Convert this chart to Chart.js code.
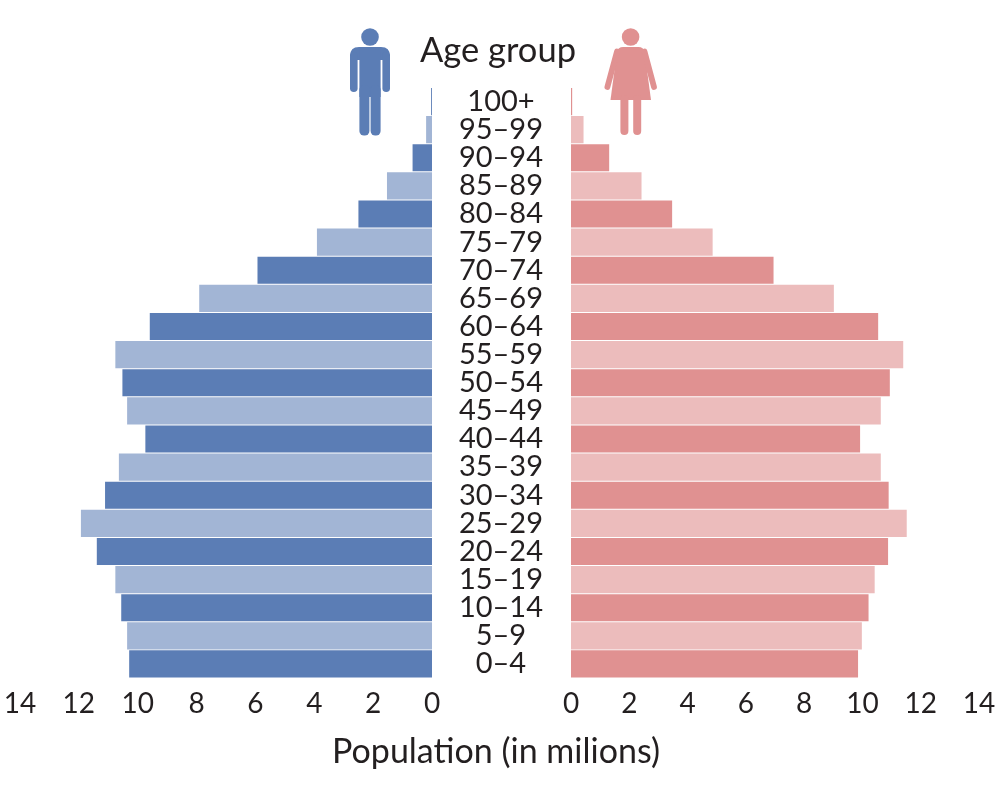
<!DOCTYPE html>
<html>
<head>
<meta charset="utf-8">
<script src="https://cdn.jsdelivr.net/npm/chart.js@4.4.1/dist/chart.umd.min.js"></script>
<style>
  html, body { margin:0; padding:0; background:#fff; }
  body { width:1001px; height:785px; position:relative; overflow:hidden; font-family:Lato, "Open Sans", sans-serif; }
  #wm { position:absolute; left:-40px; top:0; width:502px; height:785px; }
  #wf { position:absolute; left:432px; top:0; width:600px; height:785px; }
  .t { position:absolute; color:#231f20; white-space:nowrap; line-height:1; transform:translateX(-50%); }
  #title { left:498px; top:32px; font-size:34.5px; }
  #xtitle { left:496px; top:733px; font-size:34px; }
  svg { position:absolute; left:0; top:0; pointer-events:none; }
</style>
</head>
<body>
<div id="wm"><canvas id="cm"></canvas></div>
<div id="wf"><canvas id="cf"></canvas></div>
<div class="t" id="title">Age group</div>
<div class="t" id="xtitle">Population (in milions)</div>
<svg width="1001" height="785" viewBox="0 0 1001 785">
  <g fill="#5b7db5">
    <circle cx="370" cy="37" r="8.8"/>
    <path d="M350,60 L350,56 Q350,47 359,47 L381,47 Q390,47 390,56 L390,60 Z"/>
    <rect x="350" y="52" width="7.6" height="40" rx="3.8"/>
    <rect x="382.4" y="52" width="7.6" height="40" rx="3.8"/>
    <rect x="359.4" y="47" width="21.2" height="50"/>
    <rect x="359.4" y="85" width="10" height="50.5" rx="4.6"/>
    <rect x="370.6" y="85" width="10" height="50.5" rx="4.6"/>
  </g>
  <g fill="#e09191" stroke="none">
    <circle cx="630.6" cy="37" r="8.8"/>
    <path d="M623,47 L638.5,47 Q643.5,47 644.5,51.5 L651,100 L610.5,100 L617,51.5 Q618,47 623,47 Z"/>
    <line x1="617" y1="51.5" x2="607.4" y2="87" stroke="#e09191" stroke-width="5.8" stroke-linecap="round"/>
    <line x1="644.5" y1="51.5" x2="654" y2="87" stroke="#e09191" stroke-width="5.8" stroke-linecap="round"/>
    <rect x="620.4" y="95" width="8" height="40" rx="4"/>
    <rect x="633.2" y="95" width="8" height="40" rx="4"/>
  </g>
</svg>
<script>
const ageGroups = ['100+','95–99','90–94','85–89','80–84','75–79','70–74','65–69','60–64','55–59','50–54','45–49','40–44','35–39','30–34','25–29','20–24','15–19','10–14','5–9','0–4'];
const malePop   = [0.03,0.20,0.66,1.53,2.50,3.91,5.93,7.91,9.59,10.76,10.52,10.36,9.74,10.64,11.11,11.93,11.39,10.76,10.56,10.36,10.29];
const femalePop = [0.04,0.43,1.31,2.42,3.47,4.86,6.95,9.02,10.54,11.40,10.94,10.63,9.92,10.63,10.90,11.52,10.88,10.42,10.21,9.98,9.85];
const xTicks = [0,2,4,6,8,10,12,14];

const maleColors = ['#5b7db5','#a2b5d5'];
const femaleColors = ['#e09191','#ecbcbc'];
const textColor = '#231f20';
const tickFont = { family: 'Lato, "Open Sans", sans-serif', size: 28 };

function xScale(reverse) {
  return {
    type: 'linear', reverse: reverse, min: 0, max: 14,
    afterBuildTicks: (s) => { s.ticks = xTicks.map(v => ({ value: v })); },
    ticks: { font: tickFont, color: textColor, padding: 9, maxRotation: 0, autoSkip: false },
    grid: { display: false, drawTicks: false },
    border: { display: false }
  };
}

function dataset(values, colors) {
  return {
    data: values,
    backgroundColor: values.map((_, i) => colors[i % 2]),
    borderWidth: 0,
    barPercentage: 0.965,
    categoryPercentage: 1.0
  };
}

const common = {
  indexAxis: 'y',
  responsive: true,
  maintainAspectRatio: false,
  animation: false,
  plugins: { legend: { display: false }, tooltip: { enabled: false } }
};

new Chart(document.getElementById('cm'), {
  type: 'bar',
  data: { labels: ageGroups, datasets: [dataset(malePop, maleColors)] },
  options: Object.assign({}, common, {
    layout: { padding: { left: 60, right: 30, top: 87.5, bottom: 55.4 } },
    scales: {
      x: xScale(true),
      y: { type: 'category', display: false }
    }
  })
});

new Chart(document.getElementById('cf'), {
  type: 'bar',
  data: { labels: ageGroups, datasets: [dataset(femalePop, femaleColors)] },
  options: Object.assign({}, common, {
    layout: { padding: { left: 0, right: 53, top: 87.5, bottom: 55.4 } },
    scales: {
      x: xScale(false),
      y: {
        type: 'category',
        position: 'left',
        afterFit: (s) => { s.width = 139; },
        ticks: { font: { family: 'Lato, "Open Sans", sans-serif', size: 29 }, color: textColor, crossAlign: 'center', padding: 28, autoSkip: false },
        grid: { display: false, drawTicks: false },
        border: { display: false }
      }
    }
  })
});
</script>
</body>
</html>
